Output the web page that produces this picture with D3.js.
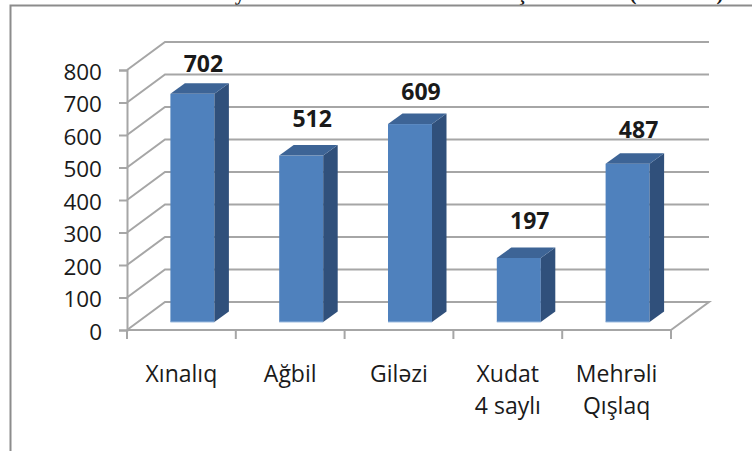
<!DOCTYPE html>
<html>
<head>
<meta charset="utf-8">
<script src="https://cdn.jsdelivr.net/npm/d3@7"></script>
<style>
  html, body { margin: 0; padding: 0; background: #fff; }
  text { font-family: "Open Sans", "Noto Sans", sans-serif; fill: #1a1a1a; }
</style>
</head>
<body>
<svg id="chart" width="752" height="451"></svg>
<script>
const categories = [["Xınalıq"], ["Ağbil"], ["Giləzi"], ["Xudat", "4 saylı"], ["Mehrəli", "Qışlaq"]];
const values = [702, 512, 609, 197, 487];
const yTicks = [0, 100, 200, 300, 400, 500, 600, 700, 800];

const svg = d3.select("#chart");

// bits of the cut off heading that still show above the frame
const titleScraps = [["y", 240], ["ş", 522], ["(", 633], [")", 720]];
svg.append("g").selectAll("text")
  .data(titleScraps)
  .enter()
  .append("text")
  .attr("x", d => d[1])
  .attr("y", 0)
  .attr("text-anchor", "middle")
  .style("font-family", "'Liberation Serif', serif")
  .style("font-size", "21px")
  .style("font-weight", "700")
  .text(d => d[0]);

// frame left over from the document the chart was cut from
svg.append("path")
  .attr("d", "M10.5,451V5.5H752")
  .attr("fill", "none")
  .attr("stroke", "#8c8c8c")
  .attr("stroke-width", 2);

const x = d3.scaleBand().domain(d3.range(values.length)).range([127, 671]);
const y = d3.scaleLinear().domain([0, 800]).range([330, 70]);

const depthX = 38, depthY = -28;
const grid = "#a6a6a6";

// back wall gridlines and side wall diagonals
svg.append("g").selectAll("path")
  .data(yTicks)
  .enter()
  .append("path")
  .attr("d", d => {
    const py = y(d);
    let p = `M127,${py}L${127 + depthX},${py + depthY}L709,${py + depthY}`;
    if (d === 0) p += `L671,${py}`;
    return p;
  })
  .attr("fill", "none")
  .attr("stroke", grid)
  .attr("stroke-width", 2);

// axes
const yAxis = d3.axisLeft(y).tickValues(yTicks).tickSize(8).tickPadding(17);
const gy = svg.append("g").attr("transform", "translate(127,0)").call(yAxis);
gy.selectAll("text")
  .style("font-size", "22.5px")
  .attr("fill", "#1a1a1a")
  .attr("dy", "0.4em");

const gx = svg.append("g").attr("transform", "translate(0,330)");
gx.append("path").attr("d", "M127,0H671");
gx.selectAll("line")
  .data(d3.range(values.length + 1))
  .enter()
  .append("line")
  .attr("x1", i => i < values.length ? x(i) : x.range()[1])
  .attr("x2", i => i < values.length ? x(i) : x.range()[1])
  .attr("y2", 9);

svg.selectAll(".domain, g line")
  .attr("stroke", grid)
  .attr("stroke-width", 2)
  .attr("fill", "none");
gx.select("path").attr("stroke", grid).attr("stroke-width", 2);

// bars, sitting part way into the floor
const barW = 44, barDx = 14.5, barDy = -10.5, floorDx = 11, floorDy = -8;
// the value labels were placed by hand in the original, gap above each bar differs
const labelGaps = [19, 26, 22, 26, 23];

const bars = svg.append("g").selectAll("g")
  .data(values)
  .enter()
  .append("g")
  .attr("transform", (d, i) => `translate(${x(i) + x.bandwidth() / 2 - barW / 2 + floorDx},${floorDy})`);

bars.append("rect")
  .attr("y", d => y(d))
  .attr("width", barW)
  .attr("height", d => y(0) - y(d))
  .attr("fill", "#4f81bd");

bars.append("line")
  .attr("x2", barW)
  .attr("y1", y(0))
  .attr("y2", y(0))
  .attr("stroke", "#9dbbdf")
  .attr("stroke-width", 1);

bars.append("path")
  .attr("d", d => `M${barW},${y(d)}l${barDx},${barDy}V${y(0) + barDy}l${-barDx},${-barDy}Z`)
  .attr("fill", "#30507b");

bars.append("path")
  .attr("d", d => `M0,${y(d)}l${barDx},${barDy}h${barW}l${-barDx},${-barDy}Z`)
  .attr("fill", "#3d6496");

bars.append("text")
  .attr("x", barW / 2 + 11)
  .attr("y", (d, i) => y(d) + barDy - labelGaps[i] + 8)
  .attr("text-anchor", "middle")
  .style("font-size", "23px")
  .style("font-weight", "700")
  .text(d => d);

// category labels
const labels = svg.append("g").selectAll("text")
  .data(categories)
  .enter()
  .append("text")
  .attr("text-anchor", "middle")
  .style("font-size", "23px")
  .attr("transform", (d, i) => `translate(${x(i) + x.bandwidth() / 2},382)`);

labels.selectAll("tspan")
  .data(d => d)
  .enter()
  .append("tspan")
  .attr("x", 0)
  .attr("dy", (d, i) => i ? 32 : 0)
  .text(d => d);
</script>
</body>
</html>
